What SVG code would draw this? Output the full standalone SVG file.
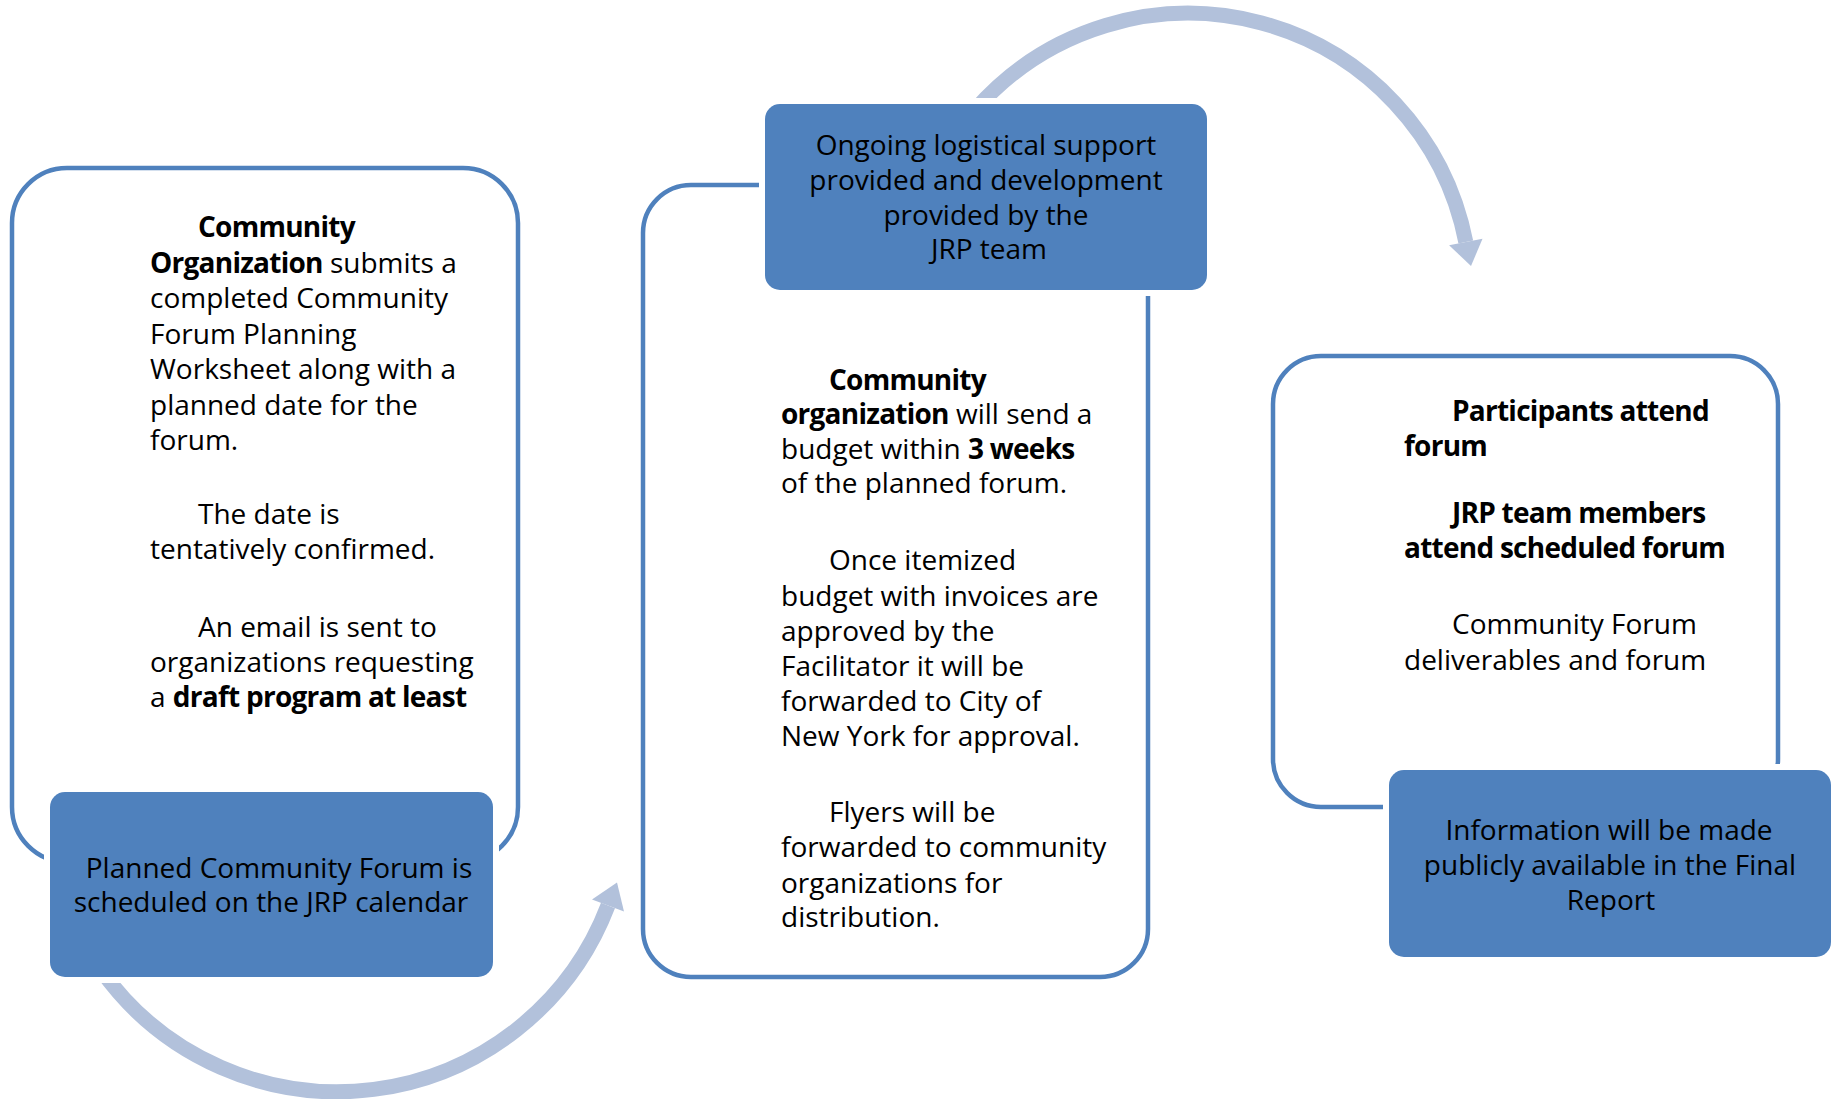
<svg xmlns="http://www.w3.org/2000/svg" width="1838" height="1099" viewBox="0 0 1838 1099">
<style>
  .wbox { fill: #FFFFFF; stroke: #4F81BD; stroke-width: 4.5; }
  .halo { fill: #FFFFFF; stroke: none; }
  .bbox { fill: #4F81BD; stroke: none; }
  .arc { fill: none; stroke: #B2C1DB; stroke-width: 15; }
  .head { fill: #B2C1DB; stroke: none; }
  text { font-family: "Open Sans", "Liberation Sans", sans-serif; font-size: 28px; fill: #000000; }
  .c { text-anchor: middle; }
  .b { font-weight: bold; letter-spacing: -0.75px; }
</style>
<rect width="1838" height="1099" fill="#FFFFFF"/>

<g id="connectors">
  <path class="arc" d="M 101 970 A 290 290 0 0 0 608 905.5"/>
  <polygon class="head" points="592,899.4 617,882.5 624,911.6"/>
  <path class="arc" d="M 975 110 A 283 283 0 0 1 1465.8 242"/>
  <polygon class="head" points="1449.1,245.2 1471,266 1482.5,238.8"/>
</g>

<g id="step1-details">
  <rect class="wbox" x="12" y="168" width="506" height="694" rx="55" ry="55"/>
  <text x="198" y="237" class="b">Community</text>
  <text x="150" y="272.5"><tspan class="b">Organization</tspan> submits a</text>
  <text x="150" y="308">completed Community</text>
  <text x="150" y="343.5">Forum Planning</text>
  <text x="150" y="379">Worksheet along with a</text>
  <text x="150" y="414.5">planned date for the</text>
  <text x="150" y="450">forum.</text>
  <text x="198" y="524">The date is</text>
  <text x="150" y="559">tentatively confirmed.</text>
  <text x="198" y="636.5">An email is sent to</text>
  <text x="150" y="671.5">organizations requesting</text>
  <text x="150" y="706.5">a <tspan class="b">draft program at least</tspan></text>
</g>

<g id="step1">
  <rect class="halo" x="44" y="786" width="455" height="197" rx="20" ry="20"/>
  <rect class="bbox" x="50" y="792" width="443" height="185" rx="15" ry="15"/>
  <text x="279" y="878" class="c">Planned Community Forum is</text>
  <text x="271" y="912" class="c">scheduled on the JRP calendar</text>
</g>

<g id="step2-details">
  <rect class="wbox" x="643" y="185" width="505" height="792" rx="48" ry="48"/>
  <text x="829" y="390" class="b">Community</text>
  <text x="781" y="424"><tspan class="b">organization</tspan> will send a</text>
  <text x="781" y="459">budget within <tspan class="b">3 weeks</tspan></text>
  <text x="781" y="493">of the planned forum.</text>
  <text x="829" y="570">Once itemized</text>
  <text x="781" y="605.5">budget with invoices are</text>
  <text x="781" y="640.5">approved by the</text>
  <text x="781" y="676">Facilitator it will be</text>
  <text x="781" y="711">forwarded to City of</text>
  <text x="781" y="745.5">New York for approval.</text>
  <text x="829" y="822">Flyers will be</text>
  <text x="781" y="857">forwarded to community</text>
  <text x="781" y="892.5">organizations for</text>
  <text x="781" y="927">distribution.</text>
</g>

<g id="step2">
  <rect class="halo" x="759" y="98" width="454" height="198" rx="20" ry="20"/>
  <rect class="bbox" x="765" y="104" width="442" height="186" rx="15" ry="15"/>
  <text x="986" y="155" class="c">Ongoing logistical support</text>
  <text x="986" y="190" class="c">provided and development</text>
  <text x="986" y="225" class="c">provided by the</text>
  <text x="989" y="259" class="c">JRP team</text>
</g>

<g id="step3-details">
  <rect class="wbox" x="1273" y="356" width="505" height="451" rx="48" ry="48"/>
  <text x="1452" y="421" class="b">Participants attend</text>
  <text x="1404" y="456" class="b">forum</text>
  <text x="1452" y="523" class="b">JRP team members</text>
  <text x="1404" y="558" class="b">attend scheduled forum</text>
  <text x="1452" y="634">Community Forum</text>
  <text x="1404" y="669.5">deliverables and forum</text>
</g>

<g id="step3">
  <rect class="halo" x="1383" y="764" width="454" height="199" rx="20" ry="20"/>
  <rect class="bbox" x="1389" y="770" width="442" height="187" rx="15" ry="15"/>
  <text x="1609" y="840" class="c">Information will be made</text>
  <text x="1610" y="875" class="c">publicly available in the Final</text>
  <text x="1611" y="910" class="c">Report</text>
</g>
</svg>
